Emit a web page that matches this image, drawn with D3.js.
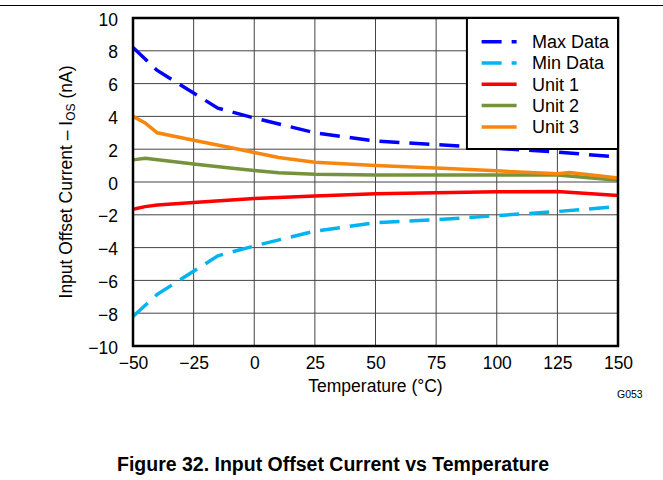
<!DOCTYPE html>
<html>
<head>
<meta charset="utf-8">
<script src="https://cdn.jsdelivr.net/npm/d3@7"></script>
<style>
  body { margin: 0; background: #fff; }
  text { font-family: "Liberation Sans", Arial, sans-serif; }
</style>
</head>
<body>
<div id="chart"></div>
<script>
// data
var xTicks = [-50, -25, 0, 25, 50, 75, 100, 125, 150];
var yTicks = [-10, -8, -6, -4, -2, 0, 2, 4, 6, 8, 10];

var boundTemps = [-50, -40, -15, 0, 25, 50, 75, 100, 125, 150];
var maxData = [8.2, 6.8, 4.5, 3.9, 3.0, 2.5, 2.28, 2.05, 1.83, 1.52];
var minData = [-8.2, -6.85, -4.5, -3.9, -3.0, -2.48, -2.3, -2.05, -1.8, -1.5];

var unit1Temps = [-50, -45, -40, -25, 0, 25, 50, 75, 100, 125, 150];
var unit1 = [-1.66, -1.5, -1.4, -1.25, -1.0, -0.85, -0.72, -0.65, -0.6, -0.58, -0.82];

var unit2Temps = [-50, -45, -25, -10, 0, 10, 25, 50, 75, 100, 125, 150];
var unit2 = [1.35, 1.45, 1.1, 0.85, 0.7, 0.56, 0.48, 0.43, 0.42, 0.42, 0.42, 0.1];

var unit3Temps = [-50, -45, -40, -25, -10, 0, 10, 25, 50, 75, 100, 125, 130, 150];
var unit3 = [4.0, 3.6, 3.0, 2.55, 2.1, 1.8, 1.5, 1.2, 1.0, 0.85, 0.68, 0.5, 0.58, 0.25];

var seriesNames = ["Max Data", "Min Data", "Unit 1", "Unit 2", "Unit 3"];
var colors = ["#0000ff", "#00b4f0", "#ff0000", "#76923c", "#f7860f"];
var dashes = ["20,10", "20,10", null, null, null];

var W = 663, H = 480;
var margin = {top: 18, left: 133, right: 45, bottom: 134};
var width = W - margin.left - margin.right,
    height = H - margin.top - margin.bottom;

var svg = d3.select("#chart").append("svg")
  .attr("width", W).attr("height", H);

// header rule
svg.append("line")
  .attr("x1", 0).attr("x2", W).attr("y1", 5.5).attr("y2", 5.5)
  .attr("stroke", "#000").attr("stroke-width", 1);

var g = svg.append("g").attr("transform", `translate(${margin.left},${margin.top})`);

var x = d3.scaleLinear().domain([-50, 150]).range([0, width]);
var y = d3.scaleLinear().domain([-10, 10]).range([height, 0]);

// grid
g.append("g").selectAll("line").data(xTicks).join("line")
  .attr("x1", d => x(d)).attr("x2", d => x(d))
  .attr("y1", 0).attr("y2", height)
  .attr("stroke", "#444").attr("stroke-width", 1);
g.append("g").selectAll("line").data(yTicks).join("line")
  .attr("x1", 0).attr("x2", width)
  .attr("y1", d => y(d)).attr("y2", d => y(d))
  .attr("stroke", "#444").attr("stroke-width", 1);

// axes labels
var fmt = d => d < 0 ? "\u2212" + Math.abs(d) : String(d);
var xAxis = g.append("g").attr("transform", `translate(0,${height})`)
  .call(d3.axisBottom(x).tickValues(xTicks).tickFormat(fmt).tickSize(0).tickPadding(11));
var yAxis = g.append("g").attr("transform", "translate(0,1.5)")
  .call(d3.axisLeft(y).tickValues(yTicks).tickFormat(fmt).tickSize(0).tickPadding(15));
[xAxis, yAxis].forEach(function(a) {
  a.select(".domain").remove();
  a.selectAll("text").attr("font-size", 17.5).attr("fill", "#000")
    .attr("font-family", "Liberation Sans, Arial, sans-serif");
});

// series
var series = [
  {t: boundTemps, v: maxData},
  {t: boundTemps, v: minData},
  {t: unit1Temps, v: unit1},
  {t: unit2Temps, v: unit2},
  {t: unit3Temps, v: unit3}
];
var line = d3.line().x(d => x(d[0])).y(d => y(d[1]));
var drawOrder = [3, 4, 2, 1, 0];
drawOrder.forEach(function(i) {
  var pts = series[i].t.map((t, k) => [t, series[i].v[k]]);
  g.append("path").datum(pts)
    .attr("fill", "none")
    .attr("stroke", colors[i])
    .attr("stroke-width", 3.5)
    .attr("stroke-dasharray", dashes[i])
    .attr("d", line);
});

// frame
g.append("rect").attr("x", 0).attr("y", 0).attr("width", width).attr("height", height)
  .attr("fill", "none").attr("stroke", "#000").attr("stroke-width", 2.5);

// legend
var lgX = x(87.7);
var lg = g.append("g").attr("transform", `translate(${lgX},0)`);
lg.append("rect").attr("x", 0).attr("y", 0).attr("width", width - lgX).attr("height", 131)
  .attr("fill", "#fff").attr("stroke", "#000").attr("stroke-width", 2);
seriesNames.forEach(function(name, i) {
  var yy = 23.7 + i * 21.3;
  lg.append("line")
    .attr("x1", 14.7).attr("x2", 49.7).attr("y1", yy).attr("y2", yy)
    .attr("stroke", colors[i]).attr("stroke-width", 3.5)
    .attr("stroke-dasharray", dashes[i]);
  lg.append("text").attr("x", 65).attr("y", yy).attr("dy", "0.35em")
    .attr("font-size", 18).text(name);
});

// y title
var yt = svg.append("text")
  .attr("transform", `translate(72,182) rotate(-90)`)
  .attr("text-anchor", "middle").attr("font-size", 17.5);
yt.append("tspan").text("Input Offset Current \u2013 I");
yt.append("tspan").attr("font-size", 12).attr("dy", 3).text("OS");
yt.append("tspan").attr("dy", -3).text(" (nA)");

// x title
svg.append("text")
  .attr("x", margin.left + width / 2).attr("y", 392)
  .attr("text-anchor", "middle").attr("font-size", 17.5)
  .text("Temperature (\u00b0C)");

svg.append("text")
  .attr("x", 617).attr("y", 398).attr("font-size", 10.5)
  .text("G053");

svg.append("text")
  .attr("x", 333).attr("y", 471)
  .attr("text-anchor", "middle").attr("font-size", 19.5).attr("font-weight", "bold")
  .text("Figure 32. Input Offset Current vs Temperature");
</script>
</body>
</html>
